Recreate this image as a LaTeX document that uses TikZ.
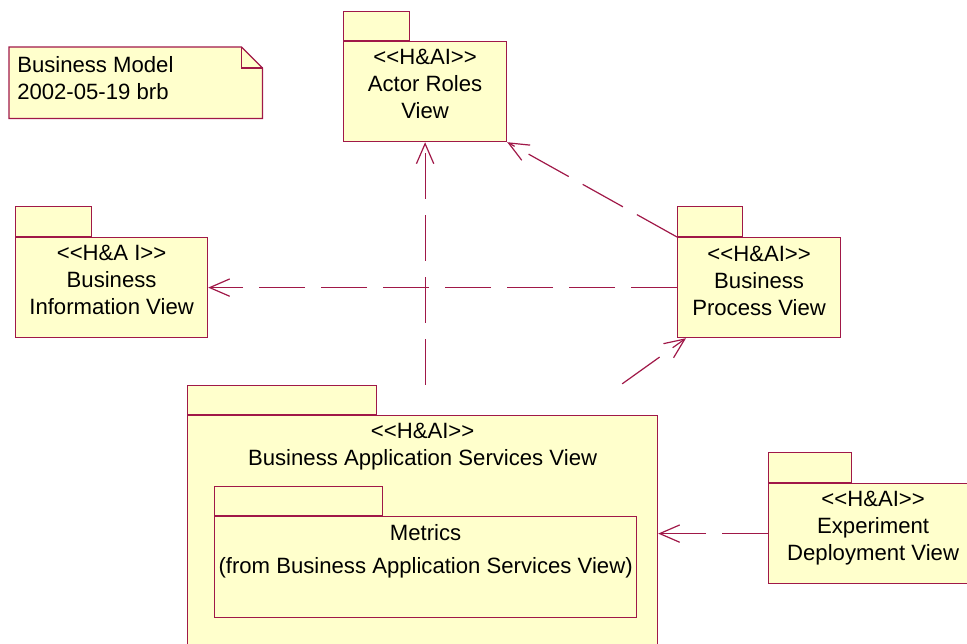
\documentclass[tikz,border=0pt]{standalone}
\usepackage{fontspec}
\setmainfont{Liberation Sans}
\usetikzlibrary{arrows.meta, positioning, calc}
\definecolor{roseRed}{RGB}{160,24,72}
\definecolor{roseYellow}{RGB}{255,255,204}
\tikzset{
    pkgsize/.style 2 args={minimum width=#1*0.75pt, minimum height=#2*0.75pt},
    pkgbody/.style={rectangle, draw=roseRed, fill=roseYellow, line width=0.9pt,
        inner sep=0pt, anchor=north west},
    pkgtab/.style={pkgbody, anchor=south west},
    pkgtext/.style={align=center, inner sep=0pt, font=\fontsize{16.6}{20.25}\selectfont},
    notebox/.style={rectangle, inner sep=0pt, anchor=north west},
    noteline/.style={draw=roseRed, fill=roseYellow, line width=0.9pt},
    notetext/.style={align=left, inner sep=0pt, anchor=north west,
        font=\fontsize{16.6}{20.25}\selectfont},
    dependency/.style={draw=roseRed, line width=0.9pt, dash pattern=on 34.5pt off 12pt,
        -{Straight Barb[length=15pt, width=13pt]}},
}

\begin{document}
\begin{tikzpicture}[x=0.75pt, y=-0.75pt]
    \useasboundingbox (0,0) rectangle (967,643);
    \clip (0,0) rectangle (967,643);

    % note in the top left corner
    \node[notebox, pkgsize={253}{71}] (note) at (9,47) {};
    \draw[noteline] (note.north west) -- ($(note.north east)+(-21,0)$)
        -- ($(note.north east)+(0,21)$) -- (note.south east) -- (note.south west) -- cycle;
    \draw[noteline, fill=none] ($(note.north east)+(-21,0)$) |- ($(note.north east)+(0,21)$);
    \node[notetext] (note text) at ($(note.north west)+(8,9.5)$)
        {Business Model\\2002-05-19 brb};

    % packages: body first, then the tab on top of it
    \node[pkgbody, pkgsize={163}{100}] (actor) at (343,41) {};
    \node[pkgtab, pkgsize={66}{29}] (actor tab) at (actor.north west) {};
    \node[pkgtext, below=6.3pt of actor.north] (actor text)
        {<{}<H\&AI>{}>\\Actor Roles\\View};

    \node[pkgbody, pkgsize={192}{100}] (info) at (15,237) {};
    \node[pkgtab, pkgsize={76}{30}] (info tab) at (info.north west) {};
    \node[pkgtext, below=5.6pt of info.north] (info text)
        {<{}<H\&A I>{}>\\Business\\Information View};

    \node[pkgbody, pkgsize={163}{100}] (process) at (677,237) {};
    \node[pkgtab, pkgsize={65}{30}] (process tab) at (process.north west) {};
    \node[pkgtext, below=6.4pt of process.north] (process text)
        {<{}<H\&AI>{}>\\Business\\Process View};

    \node[pkgbody, pkgsize={470}{250}] (bas) at (187,415) {};
    \node[pkgtab, pkgsize={189}{29}] (bas tab) at (bas.north west) {};
    \node[pkgtext, below=6.3pt of bas.north] (bas text)
        {<{}<H\&AI>{}>\\Business Application Services View};

    \node[pkgbody, pkgsize={422}{101}] (metrics) at (214,516) {};
    \node[pkgtab, pkgsize={168}{29}] (metrics tab) at (metrics.north west) {};
    \node[pkgtext, below=5.8pt of metrics.north] (metrics text)
        {Metrics\\[4.5pt](from Business Application Services View)};

    \node[pkgbody, pkgsize={209}{100}] (exp) at (768,483) {};
    \node[pkgtab, pkgsize={83}{30}] (exp tab) at (exp.north west) {};
    \node[pkgtext, below=6.1pt of exp.north] (exp text)
        {<{}<H\&AI>{}>\\Experiment\\Deployment View};

    % dependencies
    \coordinate (bas out) at ($(bas tab.north -| bas.east)+(-36,-1)$);
    \draw[dependency] (bas tab.north -| actor.south) -- (actor.south);
    \draw[dependency] (bas out) -- ($(process.south west)+(9,0)$);
    \draw[dependency] (process.north west) -- (actor.south east);
    \draw[dependency] (process.west) -- (info.east);
    \draw[dependency] (exp.west) -- (exp.west -| bas.east);
\end{tikzpicture}
\end{document}
